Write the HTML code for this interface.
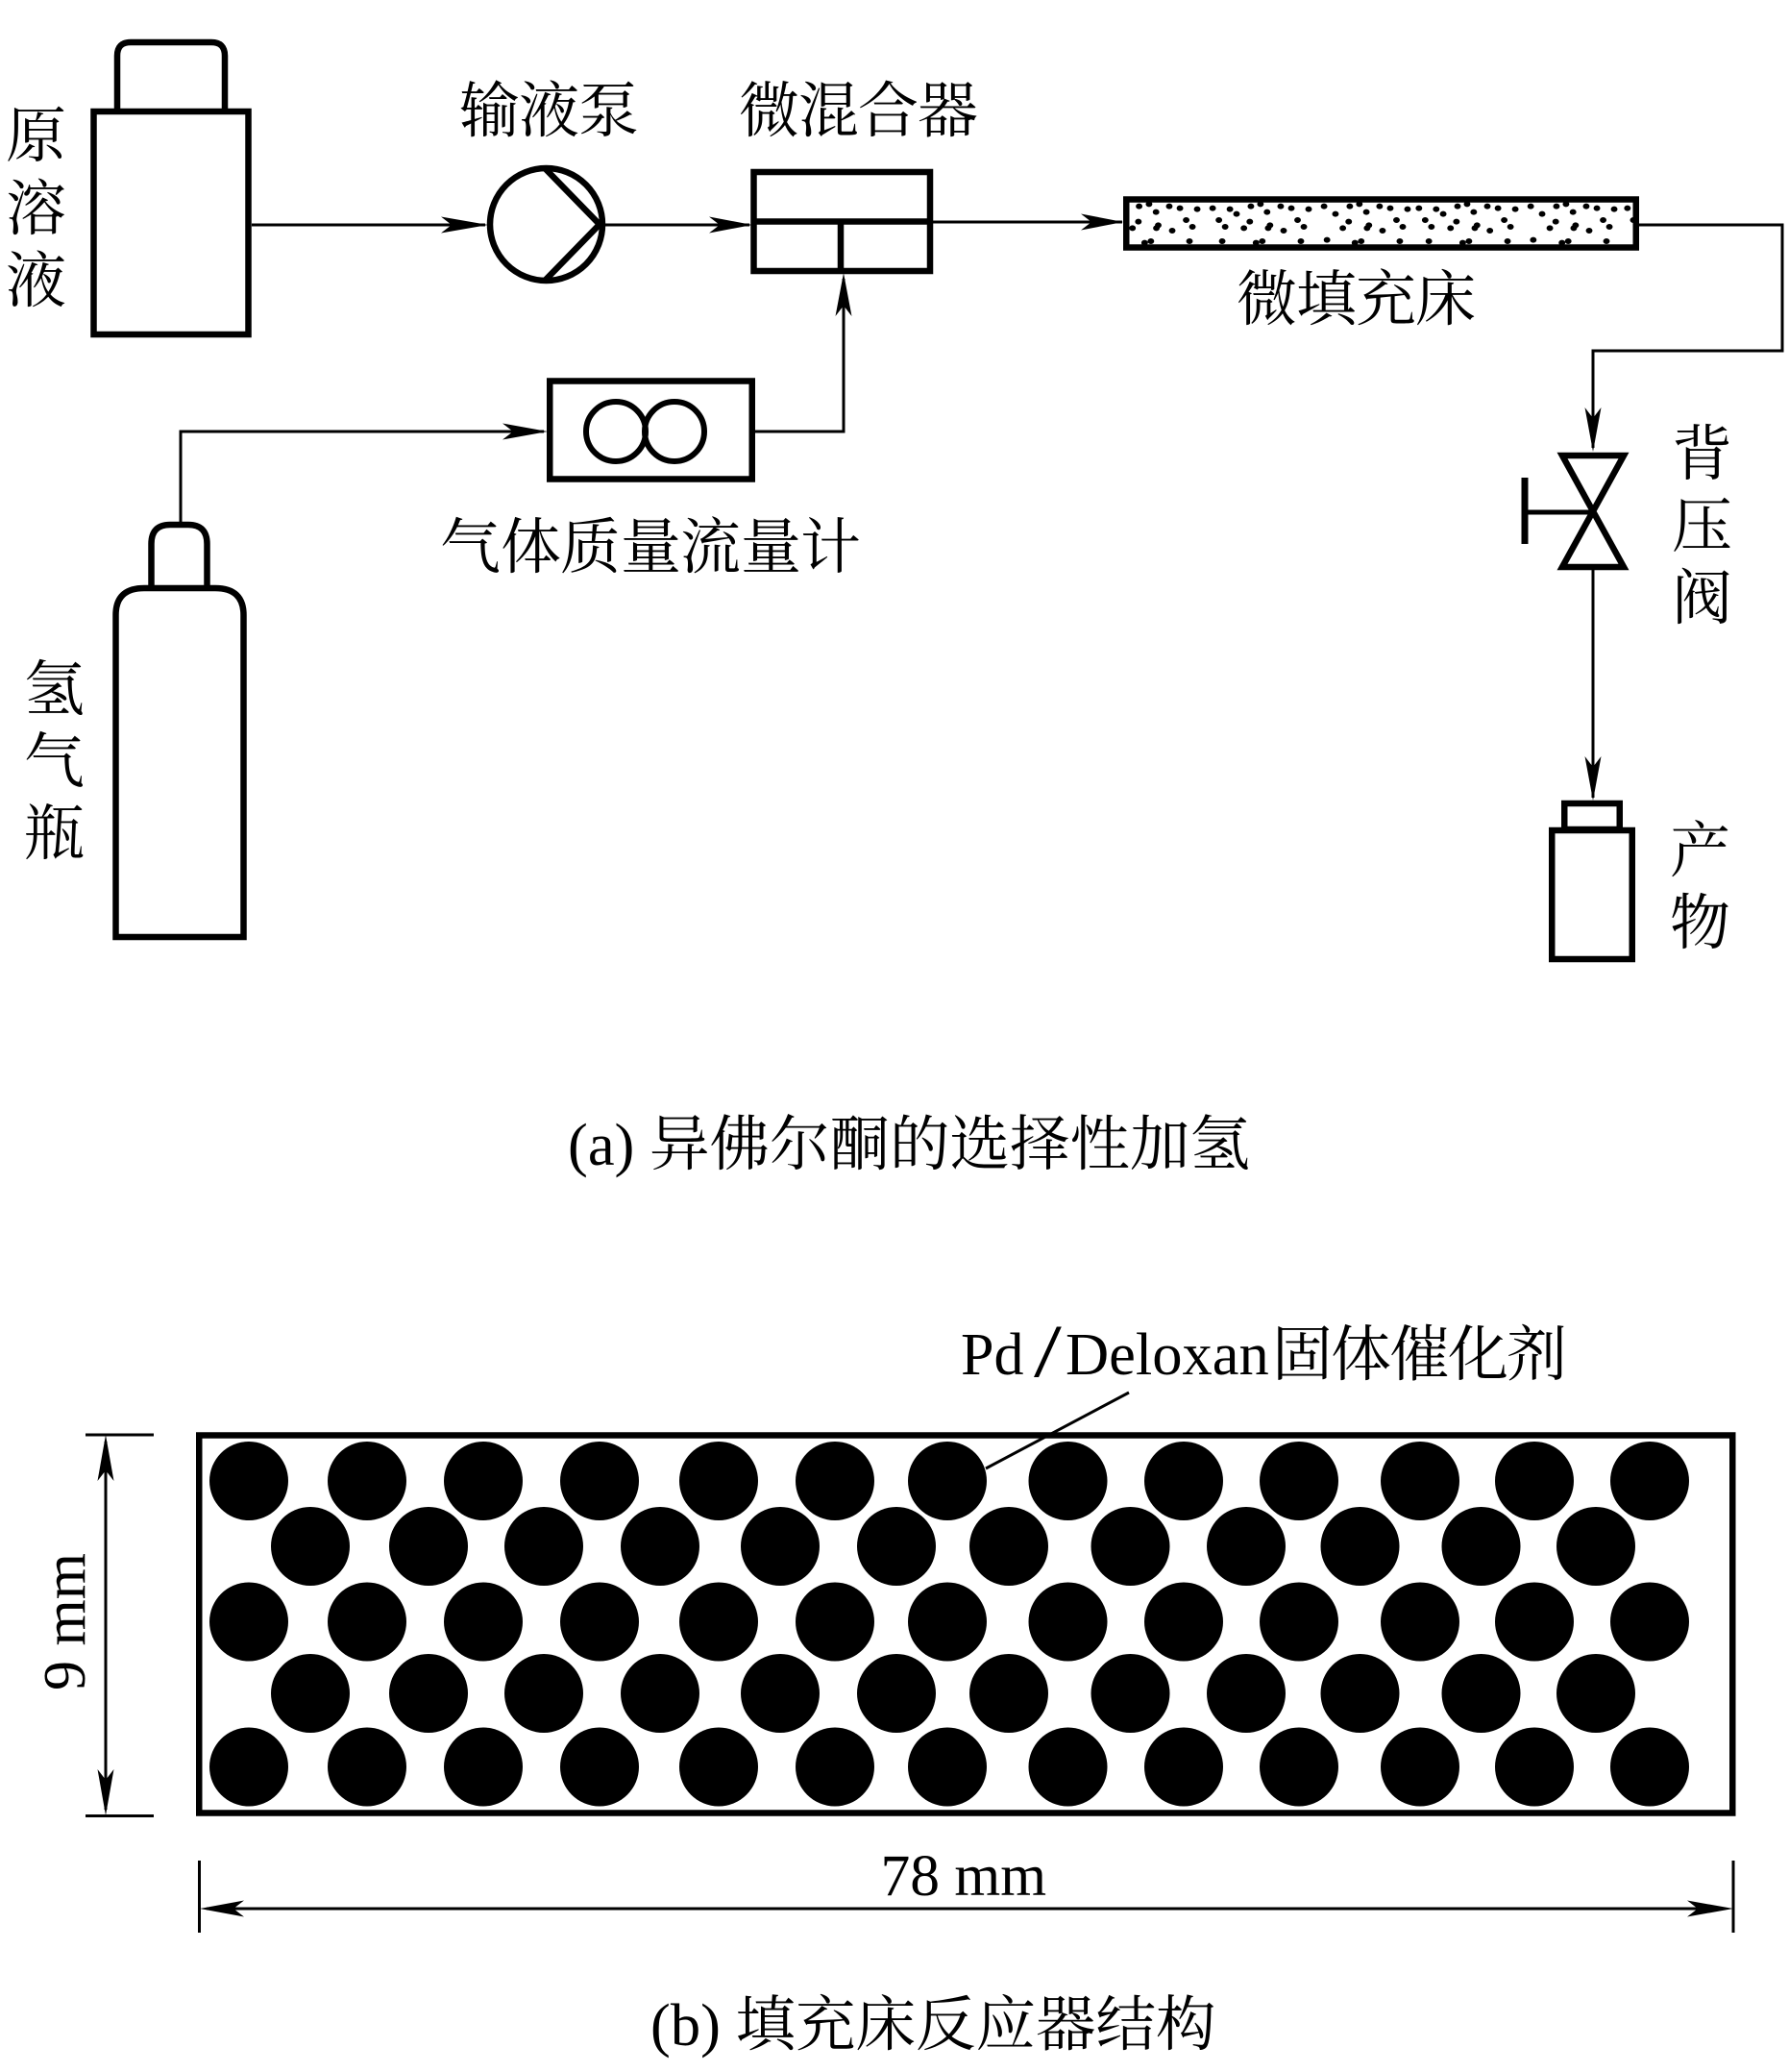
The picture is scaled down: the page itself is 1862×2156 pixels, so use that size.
<!DOCTYPE html>
<html><head><meta charset="utf-8"><style>
html,body{margin:0;padding:0;background:#fff}
svg{display:block}
text{font-family:"Liberation Serif","Noto Serif CJK SC",serif;font-size:63px;fill:#000}
.s{fill:none;stroke:#000;stroke-width:6.5}
.l{fill:none;stroke:#000;stroke-width:3}
</style></head><body>
<svg xmlns="http://www.w3.org/2000/svg" width="1862" height="2156" viewBox="0 0 1862 2156">
<defs><clipPath id="bed"><rect x="1172" y="207" width="531" height="50"/></clipPath></defs>
<rect width="1862" height="2156" fill="#fff"/>

<!-- feed bottle -->
<path class="s" d="M122 114V58Q122 44 136 44H220Q234 44 234 58V114"/>
<rect class="s" x="97.500" y="116" width="161" height="232"/>
<!-- pump -->
<circle class="s" cx="568.500" cy="233.500" r="58.500"/>
<path class="s" d="M568 176L624 233.500L568 291"/>
<!-- mixer -->
<rect class="s" x="784.500" y="179" width="183.500" height="103"/>
<path class="s" d="M784.500 230.500H968M875 230.500V282"/>
<!-- flow meter -->
<rect class="s" x="572.250" y="396.500" width="210.500" height="102"/>
<circle fill="none" stroke="#000" stroke-width="6" cx="641" cy="449" r="31"/>
<circle fill="none" stroke="#000" stroke-width="6" cx="702" cy="449" r="31"/>
<!-- connectors -->
<path class="l" d="M262 234H505M630 234H780M971 231H1168M188 543V449H566M786 449H878V290M1706 234H1855V365H1658V466M1658 593V830"/>
<path d="M508 234L459 225.500L470 234L459 242.500Z"/>
<path d="M783 234L738 225.500L749 234L738 242.500Z"/>
<path d="M1169 231L1125 222.500L1136 231L1125 239.500Z"/>
<path d="M570 449L523 440.500L534 449L523 457.500Z"/>
<path d="M878 284L869.500 329L878 318L886.500 329Z"/>
<path d="M1658 470L1649.500 424L1658 435L1666.500 424Z"/>
<path d="M1658 833L1649.500 787L1658 798L1666.500 787Z"/>
<!-- packed bed -->
<g clip-path="url(#bed)"><path transform="translate(1150 180) scale(.3827 .3333)" fill="none" stroke="#000" stroke-width="18" stroke-linecap="round" d="M93 104h0M120 97h0M175 104h0M204 110h0M251 113h0M293 110h0M340 113h0M358 128h0M139 122h0M397 104h0M423 97h0M441 122h0M478 104h0M507 110h0M554 113h0M596 104h0M627 128h0M666 104h0M692 97h0M711 122h0M747 104h0M776 110h0M823 113h0M854 110h0M901 113h0M920 128h0M959 104h0M985 97h0M1003 122h0M1040 104h0M1069 110h0M1116 113h0M1158 104h0M1189 128h0M1228 104h0M1254 97h0M1273 122h0M1309 104h0M1338 110h0M1385 113h0M1421 110h0M91 152h0M75 172h0M145 163h0M140 172h0M183 180h0M221 147h0M238 168h0M310 147h0M327 168h0M394 152h0M378 172h0M449 163h0M444 172h0M486 180h0M524 147h0M541 168h0M663 152h0M647 172h0M718 163h0M713 172h0M755 180h0M793 147h0M810 168h0M871 147h0M888 168h0M956 152h0M940 172h0M1012 163h0M1006 172h0M1047 180h0M1086 147h0M1103 168h0M1226 152h0M1210 172h0M1280 163h0M1275 172h0M1317 180h0M1355 147h0M1372 168h0M1437 147h0M108 218h0M125 213h0M230 213h0M319 213h0M411 218h0M428 213h0M533 213h0M604 209h0M680 218h0M697 213h0M802 213h0M881 213h0M973 218h0M990 213h0M1095 213h0M1165 209h0M1243 218h0M1260 213h0M1364 213h0"/></g>
<rect class="s" x="1172.250" y="207.500" width="530.500" height="50"/>
<!-- valve -->
<path class="s" d="M1626 474H1690L1626 590H1690Z" stroke-linejoin="miter"/>
<path fill="none" stroke="#000" stroke-width="7" d="M1587 497V566"/>
<path fill="none" stroke="#000" stroke-width="5" d="M1587 533H1658"/>
<!-- product bottle -->
<rect class="s" x="1628.250" y="836" width="57.500" height="27"/>
<rect class="s" x="1615.250" y="864" width="83.500" height="134"/>
<!-- H2 bottle -->
<path class="s" d="M157.500 609V566Q157.500 546 177 546H196Q215.500 546 215.500 566V609"/>
<path class="s" d="M120.500 975V640Q120.500 612 150 612H224Q253.500 612 253.500 640V975Z"/>

<!-- labels -->
<text x="478 540 602" y="137">输液泵</text>
<text x="769 831 893 955" y="137">微混合器</text>
<text x="458 521 583 646 708 771 833" y="591">气体质量流量计</text>
<text x="1287 1349 1411 1473" y="333">微填充床</text>
<text x="6" y="163">原</text><text x="6" y="239">溶</text><text x="6" y="314">液</text>
<text x="25" y="739">氢</text><text x="25" y="814">气</text><text x="25" y="889">瓶</text>
<text x="1740" y="494">背</text><text x="1740" y="569">压</text><text x="1740" y="644">阀</text>
<text x="1738" y="907">产</text><text x="1738" y="982">物</text>
<text x="591" y="1212" style="font-size:62.500px">(a) 异佛尔酮的选择性加氢</text>

<!-- reactor -->
<rect class="s" x="207.250" y="1493.500" width="1596" height="393"/>
<g>
<circle cx="259" cy="1541" r="41"/><circle cx="382" cy="1541" r="41"/><circle cx="503" cy="1541" r="41"/><circle cx="624" cy="1541" r="41"/><circle cx="748" cy="1541" r="41"/><circle cx="869" cy="1541" r="41"/><circle cx="986" cy="1541" r="41"/><circle cx="1111.500" cy="1541" r="41"/><circle cx="1232" cy="1541" r="41"/><circle cx="1352" cy="1541" r="41"/><circle cx="1478" cy="1541" r="41"/><circle cx="1597" cy="1541" r="41"/><circle cx="1717" cy="1541" r="41"/>
<circle cx="323" cy="1609" r="41"/><circle cx="446" cy="1609" r="41"/><circle cx="566" cy="1609" r="41"/><circle cx="687" cy="1609" r="41"/><circle cx="812" cy="1609" r="41"/><circle cx="933" cy="1609" r="41"/><circle cx="1050" cy="1609" r="41"/><circle cx="1176.500" cy="1609" r="41"/><circle cx="1297" cy="1609" r="41"/><circle cx="1415.500" cy="1609" r="41"/><circle cx="1541.500" cy="1609" r="41"/><circle cx="1661" cy="1609" r="41"/>
<circle cx="259" cy="1687.500" r="41"/><circle cx="382" cy="1687.500" r="41"/><circle cx="503" cy="1687.500" r="41"/><circle cx="624" cy="1687.500" r="41"/><circle cx="748" cy="1687.500" r="41"/><circle cx="869" cy="1687.500" r="41"/><circle cx="986" cy="1687.500" r="41"/><circle cx="1111.500" cy="1687.500" r="41"/><circle cx="1232" cy="1687.500" r="41"/><circle cx="1352" cy="1687.500" r="41"/><circle cx="1478" cy="1687.500" r="41"/><circle cx="1597" cy="1687.500" r="41"/><circle cx="1717" cy="1687.500" r="41"/>
<circle cx="323" cy="1762" r="41"/><circle cx="446" cy="1762" r="41"/><circle cx="566" cy="1762" r="41"/><circle cx="687" cy="1762" r="41"/><circle cx="812" cy="1762" r="41"/><circle cx="933" cy="1762" r="41"/><circle cx="1050" cy="1762" r="41"/><circle cx="1176.500" cy="1762" r="41"/><circle cx="1297" cy="1762" r="41"/><circle cx="1415.500" cy="1762" r="41"/><circle cx="1541.500" cy="1762" r="41"/><circle cx="1661" cy="1762" r="41"/>
<circle cx="259" cy="1838.500" r="41"/><circle cx="382" cy="1838.500" r="41"/><circle cx="503" cy="1838.500" r="41"/><circle cx="624" cy="1838.500" r="41"/><circle cx="748" cy="1838.500" r="41"/><circle cx="869" cy="1838.500" r="41"/><circle cx="986" cy="1838.500" r="41"/><circle cx="1111.500" cy="1838.500" r="41"/><circle cx="1232" cy="1838.500" r="41"/><circle cx="1352" cy="1838.500" r="41"/><circle cx="1478" cy="1838.500" r="41"/><circle cx="1597" cy="1838.500" r="41"/><circle cx="1717" cy="1838.500" r="41"/>
</g>
<!-- leader -->
<path class="l" d="M1026 1528L1175 1449"/>
<!-- dimensions -->
<path class="l" d="M89 1493H160M89 1889.500H160M110 1500V1883M207.500 1936V2011M1804 1936V2011M215 1986H1796"/>
<path d="M110 1493L101.500 1541L110 1530L118.500 1541Z"/>
<path d="M110 1889L101.500 1841L110 1852L118.500 1841Z"/>
<path d="M208 1986L254 1977.500L243 1986L254 1994.500Z"/>
<path d="M1804 1986L1756 1977.500L1767 1986L1756 1994.500Z"/>

<text style="font-size:62px" x="1000" y="1430">Pd</text>
<text transform="translate(1076 1432) scale(1.33 1)" style="font-size:78px">/</text>
<text style="font-size:62.500px" x="1109" y="1430">Deloxan</text>
<text x="1324 1385 1446 1507 1568" y="1431">固体催化剂</text>
<text transform="translate(88 1759) rotate(-90)" style="font-size:62px">9 mm</text>
<text x="916.500" y="1972" style="font-size:61.500px">78 mm</text>
<text x="677" y="2128" style="font-size:62.500px">(b) 填充床反应器结构</text>
</svg>
</body></html>
